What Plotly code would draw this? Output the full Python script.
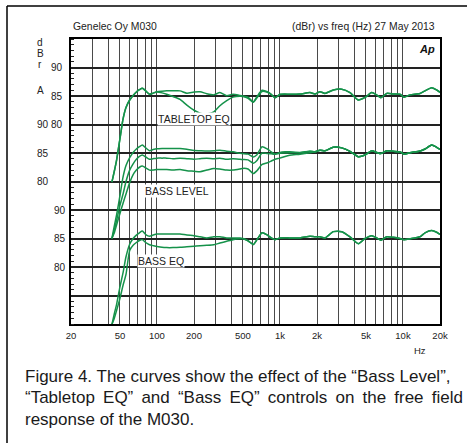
import plotly.graph_objects as go

# ---------------- data ----------------
freq_hz = [43, 45, 47, 50, 53, 56, 60, 64, 68, 72,
           76, 81, 87, 93, 100, 110, 120, 135, 154, 175,
           200, 224, 254, 290, 325, 369, 415, 473, 500, 550,
           607, 650, 715, 790, 850, 912, 1000, 1100, 1200, 1455,
           1754, 1926, 2114, 2322, 2714, 3178, 3710, 4336, 4914, 5572,
           6116, 6620, 7372, 8340, 9460, 10190, 11400, 13750, 15100, 17100,
           18800, 20000]

# Group 1: Tabletop EQ (dBr)
tabletop_off = [69.9, 71.8, 73.8, 77.5, 81.0, 83.0, 84.3, 85.1, 85.7, 86.1,
                86.35, 85.9, 85.3, 85.5, 85.75, 85.85, 85.9, 85.9, 85.9, 85.5,
                85.7, 85.75, 85.4, 85.2, 85.6, 85.05, 85.3, 85.1, 85.0, 84.8,
                84.0, 84.9, 86.0, 85.75, 85.3, 84.7, 85.3, 85.35, 85.3, 85.35,
                85.6, 85.35, 85.75, 85.45, 86.05, 86.2, 85.6, 84.3, 84.75, 85.6,
                85.2, 84.7, 85.45, 85.35, 85.3, 84.8, 85.2, 85.45, 85.9, 86.45,
                86.05, 85.65]
tabletop_on = [69.9, 71.8, 73.8, 77.5, 81.0, 83.0, 84.3, 85.1, 85.7, 86.1,
               86.35, 85.9, 85.3, 85.5, 85.7, 85.55, 85.3, 84.9, 84.4, 83.4,
               82.5, 82.0, 81.85, 82.2, 83.3, 84.2, 84.8, 84.95, 84.9, 84.6,
               83.9, 84.7, 85.8, 85.65, 85.25, 84.7, 85.25, 85.3, 85.3, 85.35,
               85.6, 85.35, 85.75, 85.45, 86.05, 86.2, 85.6, 84.3, 84.75, 85.6,
               85.2, 84.7, 85.45, 85.35, 85.3, 84.8, 85.2, 85.45, 85.9, 86.45,
               86.05, 85.65]

# Group 2: Bass Level (dBr)
bass_level_0 = [70.0, 72.2, 74.2, 77.5, 80.8, 82.8, 84.2, 85.1, 85.7, 86.1,
                86.4, 85.9, 85.4, 85.6, 85.75, 85.8, 85.8, 85.8, 85.8, 85.65,
                85.45, 85.4, 85.35, 85.4, 85.5, 85.3, 85.2, 84.95, 84.9, 84.8,
                84.3, 84.7, 86.1, 85.7, 85.2, 84.8, 85.1, 85.2, 85.2, 85.1,
                85.3, 85.2, 85.5, 85.4, 86.0, 85.9, 85.3, 84.35, 84.65, 85.4,
                85.1, 84.9, 85.4, 85.3, 85.2, 84.8, 85.05, 85.35, 85.7, 86.4,
                86.0, 85.65]
bass_level_m2 = [70.0, 71.5, 73.2, 75.8, 77.8, 80.0, 82.0, 83.1, 83.9, 84.4,
                 84.65, 84.3, 83.9, 84.0, 84.1, 84.1, 84.1, 84.0, 84.1, 84.0,
                 83.9, 84.0, 84.1, 84.0, 84.1, 83.9, 84.0, 83.9, 83.85, 83.8,
                 83.2, 83.7, 85.0, 84.9, 84.85, 84.8, 84.95, 85.0, 85.05, 85.05,
                 85.3, 85.2, 85.5, 85.4, 86.0, 85.9, 85.3, 84.35, 84.65, 85.4,
                 85.1, 84.9, 85.4, 85.3, 85.2, 84.8, 85.05, 85.35, 85.7, 86.4,
                 86.0, 85.65]
bass_level_m4 = [70.0, 71.0, 72.4, 74.4, 76.2, 77.8, 79.8, 81.2, 82.0, 82.5,
                 82.7, 82.4, 82.0, 82.0, 82.1, 82.1, 82.1, 82.0, 82.1, 81.9,
                 81.8, 81.7, 82.0, 82.3, 82.2, 82.0, 82.0, 82.2, 82.3, 82.2,
                 81.4, 81.9, 83.0, 83.3, 83.6, 83.9, 84.1, 84.4, 84.6, 84.8,
                 85.05, 85.2, 85.5, 85.4, 86.0, 85.9, 85.3, 84.35, 84.65, 85.4,
                 85.1, 84.9, 85.4, 85.3, 85.2, 84.8, 85.05, 85.35, 85.7, 86.4,
                 86.0, 85.65]

# Group 3: Bass EQ (dBr)
bass_eq_off = [69.9, 71.8, 73.5, 76.5, 79.0, 81.8, 84.0, 85.0, 85.6, 86.0,
               86.3, 85.7, 85.4, 85.6, 85.8, 85.8, 85.8, 85.8, 85.8, 85.6,
               85.5, 85.3, 85.1, 85.3, 85.3, 85.1, 85.1, 85.1, 85.0, 84.6,
               83.95, 84.8, 86.0, 85.6, 85.1, 84.8, 85.1, 85.15, 85.1, 85.1,
               85.4, 85.3, 85.3, 85.1, 86.2, 86.2, 85.3, 84.1, 85.0, 85.5,
               85.1, 84.7, 85.3, 85.2, 85.0, 84.8, 84.95, 85.3, 86.0, 86.4,
               86.1, 85.7]
bass_eq_on = [69.9, 71.0, 72.4, 74.5, 76.8, 78.7, 82.9, 83.8, 84.3, 84.65,
              84.8, 84.3, 83.9, 83.75, 83.6, 83.45, 83.4, 83.4, 83.45, 83.55,
              83.65, 83.75, 83.8, 83.9, 84.2, 84.5, 84.8, 84.95, 84.95, 84.6,
              83.95, 84.8, 86.0, 85.6, 85.1, 84.8, 85.1, 85.15, 85.1, 85.1,
              85.4, 85.3, 85.3, 85.1, 86.2, 86.2, 85.3, 84.1, 85.0, 85.5,
              85.1, 84.7, 85.3, 85.2, 85.0, 84.8, 84.95, 85.3, 86.0, 86.4,
              86.1, 85.7]

x_grid_hz = [30, 40, 50, 60, 70, 80, 90, 100, 200, 300, 400, 500, 600, 700, 800, 900,
             1000, 2000, 3000, 4000, 5000, 6000, 7000, 8000, 9000, 10000, 20000]
x_labels = {20: "20", 50: "50", 100: "100", 200: "200", 500: "500", 1000: "1k",
            2000: "2k", 5000: "5k", 10000: "10k", 20000: "20k"}
y_grid = [50, 55, 60, 65, 70, 75, 80, 85, 90]
y_labels = [80, 85, 90]

# ---------------- figure ----------------
W, H = 467, 443
ML, MR, MT, MB = 20, 27, 39, 119
PLOT_LEFT = 71
PW = W - ML - MR
PH = H - MT - MB


def xp(px):
    return (px - ML) / PW


def yp(py):
    return (MT + PH - py) / PH


FONT = "Liberation Sans, Arial, Helvetica, sans-serif"
GREEN = "#15924a"
LW = 1.5

fig = go.Figure()
series = [
    (tabletop_off, "y"), (tabletop_on, "y"),
    (bass_level_0, "y2"), (bass_level_m2, "y2"), (bass_level_m4, "y2"),
    (bass_eq_off, "y3"), (bass_eq_on, "y3"),
]
for vals, ya in series:
    fig.add_trace(go.Scatter(
        x=freq_hz, y=vals, yaxis=ya, mode="lines",
        line=dict(color=GREEN, width=LW, shape="spline", smoothing=0.6),
        showlegend=False, hoverinfo="skip"))

all_x_ticks = [20] + x_grid_hz
fig.update_layout(
    width=W, height=H,
    margin=dict(l=ML, r=MR, t=MT, b=MB),
    paper_bgcolor="white", plot_bgcolor="white",
    font=dict(family=FONT, size=10, color="#222"),
    xaxis=dict(
        type="log", range=[1.30103, 4.30103], domain=[xp(PLOT_LEFT), 1],
        tickmode="array", tickvals=all_x_ticks,
        ticktext=[x_labels.get(v, "") for v in all_x_ticks],
        showgrid=True, gridcolor="#4a4a4a", gridwidth=1,
        showline=True, linecolor="black", linewidth=2, mirror=True,
        ticks="", tickfont=dict(size=9.5, family=FONT, color="#222"),
        ticklabelstandoff=2, zeroline=False,
    ),
    yaxis=dict(
        range=[45, 95], anchor="x",
        tickmode="array", tickvals=y_grid,
        ticktext=[str(v) if v in y_labels else "" for v in y_grid],
        showgrid=True, gridcolor="#222", gridwidth=2,
        showline=True, linecolor="black", linewidth=2, mirror=True,
        ticks="", tickfont=dict(size=10, family=FONT, color="#222"),
        ticklabelstandoff=5, zeroline=False,
        minor=dict(ticks="inside", dtick=1, ticklen=3, tickcolor="#222",
                   tickwidth=1, showgrid=False),
    ),
    yaxis2=dict(
        range=[55, 105], overlaying="y", anchor="free", position=xp(52),
        tickmode="array", tickvals=y_labels, ticktext=[str(v) for v in y_labels],
        showgrid=False, showline=False, zeroline=False, ticks="",
        tickfont=dict(size=10, family=FONT, color="#222"), ticklabelstandoff=4,
    ),
    yaxis3=dict(
        range=[70, 120], overlaying="y", anchor="x",
        tickmode="array", tickvals=y_labels, ticktext=[str(v) for v in y_labels],
        showgrid=False, showline=False, zeroline=False, ticks="",
        tickfont=dict(size=10, family=FONT, color="#222"), ticklabelstandoff=5,
    ),
)

ann = []


def text(px, py, s, size=10, xanchor="center", **kw):
    ann.append(dict(x=xp(px), y=yp(py), xref="paper", yref="paper", text=s,
                    showarrow=False, xanchor=xanchor, yanchor="middle",
                    font=dict(family=FONT, size=size, color=kw.pop("color", "#222")), **kw))


text(PLOT_LEFT, 26, "Genelec Oy M030", size=10.4, xanchor="left")
text(437, 26, "(dBr) vs freq (Hz) 27 May 2013", size=10.4, xanchor="right")
text(437, 49, "<b><i>Ap</i></b>", size=11, xanchor="right", color="#111")
for ch, py in [("d", 42), ("B", 53), ("r", 65), ("A", 90)]:
    text(40, py, ch)
text(193.5, 119, "TABLETOP EQ", size=10.5, bgcolor="white", borderpad=0)
text(177, 190.5, "BASS LEVEL", size=10.5, bgcolor="white", borderpad=0)
text(161, 260.5, "BASS EQ", size=10.5, bgcolor="white", borderpad=0)
text(420, 350, "Hz", size=9.5)

SP = "\u2009"  # thin space to emulate the justified caption line
caption = ["Figure 4. The curves show the effect of the \u201cBass Level\u201d,",
           ("\u201cTabletop EQ\u201d and \u201cBass EQ\u201d controls on the free field").replace(" ", " " + SP),
           "response of the M030."]
for i, line in enumerate(caption):
    text(23, 376 + i * 21.7, line, size=17, xanchor="left", color="#1a1a1a")

fig.update_layout(annotations=ann)

# outer frame (left and top edges visible)
fig.add_shape(type="line", xref="paper", yref="paper",
              x0=xp(7), y0=yp(6), x1=xp(480), y1=yp(6),
              line=dict(color="black", width=1.5))
fig.add_shape(type="line", xref="paper", yref="paper",
              x0=xp(7), y0=yp(6), x1=xp(7), y1=yp(460),
              line=dict(color="black", width=1.5))

fig.write_html("out.html", config={"displayModeBar": False},
               post_script="document.body.style.margin='0';document.body.style.overflow='hidden';")
